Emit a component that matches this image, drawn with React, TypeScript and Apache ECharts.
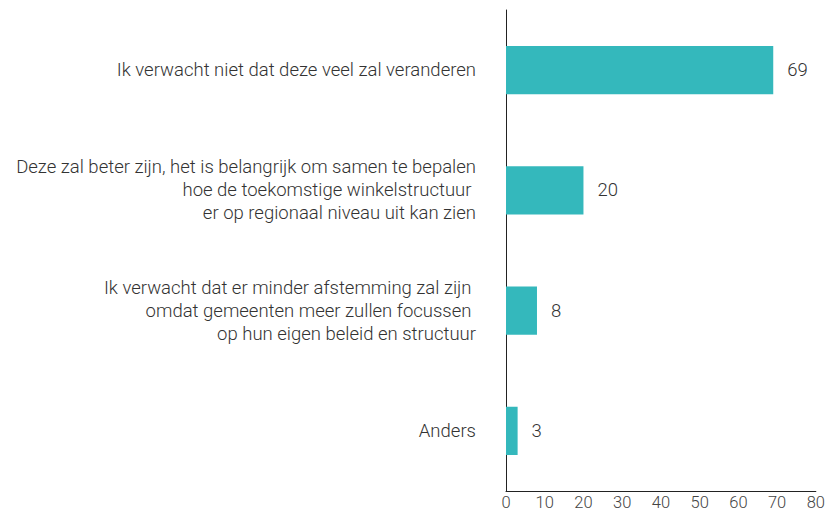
import React, { useEffect, useRef } from "react";
import * as echarts from "echarts";

const categories = [
  "Ik verwacht niet dat deze veel zal veranderen",
  "Deze zal beter zijn, het is belangrijk om samen te bepalen\nhoe de toekomstige winkelstructuur \ner op regionaal niveau uit kan zien",
  "Ik verwacht dat er minder afstemming zal zijn \nomdat gemeenten meer zullen focussen \nop hun eigen beleid en structuur",
  "Anders",
];
const values = [69, 20, 8, 3];

export default function App() {
  const ref = useRef<HTMLDivElement>(null);
  useEffect(() => {
    if (!ref.current) return;
    const chart = echarts.init(ref.current, undefined, { renderer: "svg" });
    const font = "Roboto";
    chart.setOption({
      animation: false,
      grid: { left: 506, right: 8, top: 10, bottom: 19, containLabel: false },
      xAxis: {
        type: "value",
        min: 0,
        max: 80,
        interval: 10,
        axisLine: { show: true, lineStyle: { color: "#222", width: 1 } },
        axisTick: { show: false },
        splitLine: { show: false },
        axisLabel: {
          margin: 3,
          fontFamily: font,
          fontWeight: 300,
          fontSize: 16.5,
          color: "#444",
        },
      },
      yAxis: {
        type: "category",
        inverse: true,
        data: categories,
        axisLine: { show: true, lineStyle: { color: "#222", width: 1 } },
        axisTick: { show: false },
        axisLabel: {
          margin: 30,
          fontFamily: font,
          fontWeight: 300,
          fontSize: 18.5,
          lineHeight: 23,
          color: "#333",
          align: "right",
        },
      },
      series: [
        {
          type: "bar",
          data: values,
          barWidth: "40%",
          itemStyle: { color: "#34b8bc" },
          label: {
            show: true,
            position: "right",
            distance: 14,
            fontFamily: font,
            fontWeight: 300,
            fontSize: 18.5,
            color: "#333",
          },
        },
      ],
    });
    return () => chart.dispose();
  }, []);
  return <div ref={ref} style={{ width: 828, height: 511, position: "absolute", left: 0, top: 0 }} />;
}
